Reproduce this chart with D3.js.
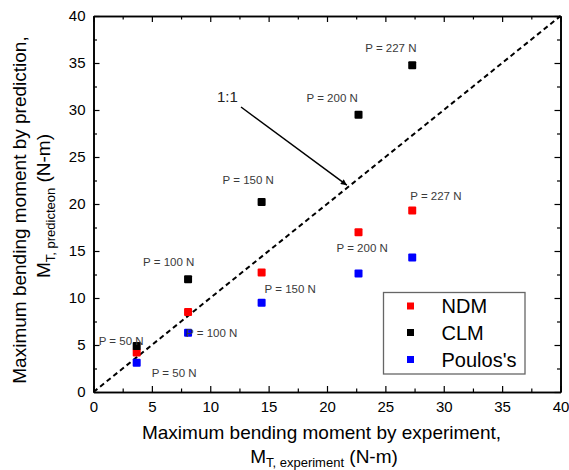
<!DOCTYPE html>
<html><head><meta charset="utf-8">
<script src="https://cdn.jsdelivr.net/npm/d3@7"></script>
<style>
html,body{margin:0;padding:0;background:#fff;}
text{font-family:"Liberation Sans",Arial,sans-serif;}
</style></head>
<body><svg id="c" width="569" height="470"></svg>
<script>
// ---- data ----
const experiment = [3.7, 8.1, 14.4, 22.7, 27.3];
const ndm = [4.2, 8.5, 12.7, 17.0, 19.3];
const clm = [4.9, 12.0, 20.2, 29.5, 34.75];
const poulos = [3.1, 6.3, 9.5, 12.6, 14.3];
const loads = ["P = 50 N", "P = 100 N", "P = 150 N", "P = 200 N", "P = 227 N"];
const seriesNames = ["NDM", "CLM", "Poulos's"];
const seriesColors = ["#ff0000", "#000000", "#0000ff"];
const majorTicks = [0, 5, 10, 15, 20, 25, 30, 35, 40];
const minorTicks = [2.5, 7.5, 12.5, 17.5, 22.5, 27.5, 32.5, 37.5];

const svg = d3.select("#c");
const x = d3.scaleLinear().domain([0, 40]).range([93.5, 560.5]);
const y = d3.scaleLinear().domain([0, 40]).range([392, 16]);

// axes
function axisG(gen, tr, labels, size, vals) {
  const a = gen.tickValues(vals).tickSize(size).tickSizeOuter(0);
  if (!labels) a.tickFormat("");
  const g = svg.append("g").attr("transform", tr).call(a);
  g.selectAll("line").attr("stroke", "#000").attr("stroke-width", 1.2);
  g.select(".domain").attr("stroke", "#000").attr("stroke-width", 1.6);
  g.selectAll("text").attr("font-size", 15).attr("fill", "#000")
    .style("font-family", '"Liberation Sans",Arial,sans-serif');
  return g;
}
axisG(d3.axisBottom(x).tickPadding(9), `translate(0,${y(0)})`, true, -6, majorTicks);
axisG(d3.axisBottom(x), `translate(0,${y(0)})`, false, -3.5, minorTicks);
axisG(d3.axisTop(x), `translate(0,${y(40)})`, false, -6, majorTicks);
axisG(d3.axisTop(x), `translate(0,${y(40)})`, false, -3.5, minorTicks);
axisG(d3.axisLeft(y).tickPadding(8), `translate(${x(0)},0)`, true, -6, majorTicks);
axisG(d3.axisLeft(y), `translate(${x(0)},0)`, false, -3.5, minorTicks);
axisG(d3.axisRight(y), `translate(${x(40)},0)`, false, -6, majorTicks);
axisG(d3.axisRight(y), `translate(${x(40)},0)`, false, -3.5, minorTicks);

// 1:1 line
svg.append("line").attr("x1", x(0)).attr("y1", y(0)).attr("x2", x(40)).attr("y2", y(40))
  .attr("stroke", "#000").attr("stroke-width", 2).attr("stroke-dasharray", "5,3.5");

// arrow
const defs = svg.append("defs");
defs.append("marker").attr("id", "ah").attr("viewBox", "0 0 10 10").attr("refX", 10).attr("refY", 5)
  .attr("markerWidth", 7).attr("markerHeight", 6).attr("markerUnits", "userSpaceOnUse").attr("orient", "auto")
  .append("path").attr("d", "M0,0L10,5L0,10z").attr("fill", "#000");
svg.append("line").attr("x1", 241).attr("y1", 107).attr("x2", x(21.7)).attr("y2", y(22.0))
  .attr("stroke", "#000").attr("stroke-width", 1.5).attr("marker-end", "url(#ah)");
svg.append("text").attr("x", 217).attr("y", 102).attr("font-size", 15).attr("fill", "#222").text("1:1");

// points
const series = [ndm, clm, poulos];
const ms = 8;
series.forEach((vals, si) => {
  svg.append("g").selectAll("rect").data(vals).join("rect")
    .attr("x", (d, i) => x(experiment[i]) - ms / 2)
    .attr("y", d => y(d) - ms / 2)
    .attr("width", ms).attr("height", ms).attr("rx", 1)
    .attr("fill", seriesColors[si]);
});

// load labels: [series index, point index, dx, dy]
const labelSpecs = [
  [1, 0, -38, -5], [1, 1, -45, -17], [1, 2, -39, -22], [1, 3, -52, -17], [1, 4, -47, -17],
  [0, 4, -2, -15],
  [2, 0, 15, 10], [2, 1, -2, 0], [2, 2, 3, -14], [2, 3, -22, -26]
];
labelSpecs.forEach(([si, pi, dx, dy]) => {
  svg.append("text")
    .attr("x", x(experiment[pi]) + dx)
    .attr("y", y(series[si][pi]) + dy + 4)
    .attr("font-size", 11.5).attr("fill", "#3a3a3a")
    .text(loads[pi]);
});

// legend
const lg = svg.append("g");
lg.append("rect").attr("x", 383.5).attr("y", 292.5).attr("width", 141.5).attr("height", 81.5)
  .attr("fill", "#fff").attr("stroke", "#666").attr("stroke-width", 1.3);
const rowY = [306, 332.5, 359.5];
seriesNames.forEach((n, i) => {
  lg.append("rect").attr("x", 407).attr("y", rowY[i] - 3.5).attr("width", 7).attr("height", 7)
    .attr("fill", seriesColors[i]);
  lg.append("text").attr("x", 441.5).attr("y", rowY[i] + 7).attr("font-size", 20).attr("fill", "#000").text(n);
});

// x axis title
svg.append("text").attr("x", 321.5).attr("y", 438.5).attr("text-anchor", "middle")
  .attr("font-size", 19).attr("fill", "#000").text("Maximum bending moment by experiment,");
const xt2 = svg.append("text").attr("x", 324).attr("y", 462.5).attr("text-anchor", "middle")
  .attr("font-size", 19).attr("fill", "#000");
xt2.append("tspan").text("M");
xt2.append("tspan").attr("font-size", 13).attr("dy", 4).text("T, experiment");
xt2.append("tspan").attr("dy", -4).text(" (N-m)");

// y axis title
svg.append("text").attr("transform", "translate(25.5,210) rotate(-90)").attr("text-anchor", "middle")
  .attr("font-size", 19).attr("fill", "#000").text("Maximum bending moment by prediction,");
const yt2 = svg.append("text").attr("transform", "translate(49.5,206) rotate(-90)").attr("text-anchor", "middle")
  .attr("font-size", 19).attr("fill", "#000");
yt2.append("tspan").text("M");
yt2.append("tspan").attr("font-size", 13).attr("dy", 5).text("T, predicteon");
yt2.append("tspan").attr("dy", -5).text(" (N-m)");
</script></body></html>
